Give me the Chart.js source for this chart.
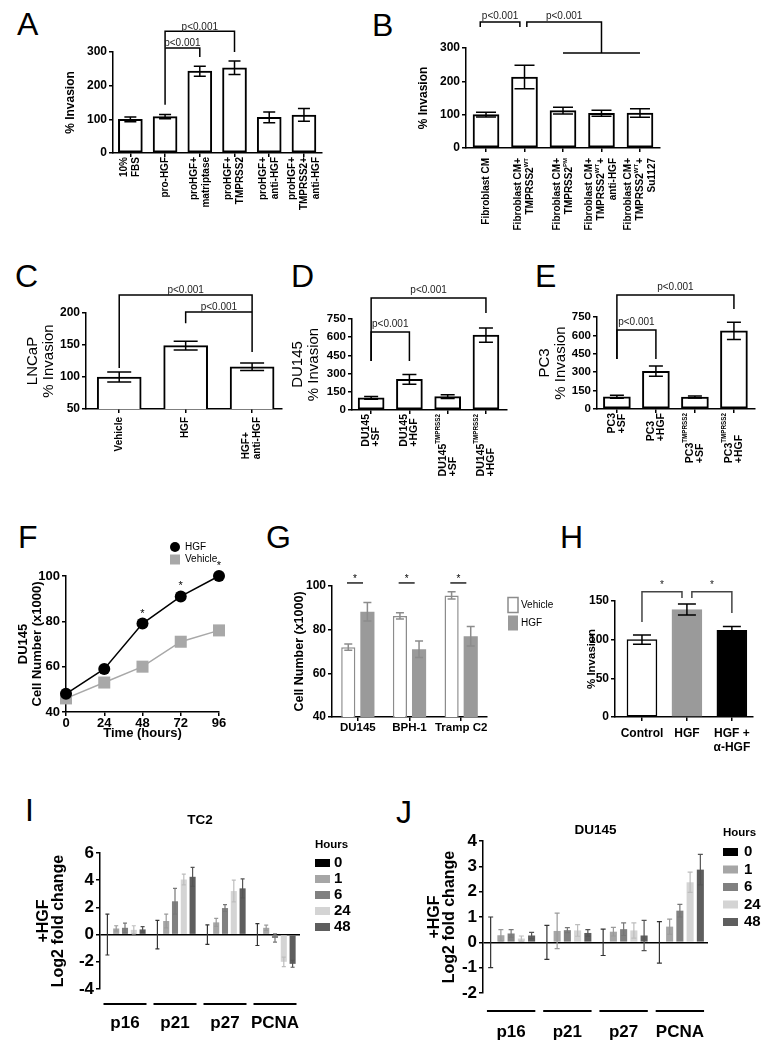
<!DOCTYPE html>
<html>
<head>
<meta charset="utf-8">
<script src="https://cdn.jsdelivr.net/npm/chart.js@4.4.1/dist/chart.umd.min.js"></script>
<style>
  body { margin: 0; background: #fff; width: 772px; height: 1050px; position: relative; overflow: hidden;
         font-family: "Liberation Sans", Arial, sans-serif; }
  canvas { position: absolute; }
  .tag { position: absolute; font-size: 32px; line-height: 32px; color: #000; }
</style>
</head>
<body>
<div class="tag" style="left:17px;top:8px">A</div>
<div class="tag" style="left:372px;top:9px">B</div>
<div class="tag" style="left:15px;top:260px">C</div>
<div class="tag" style="left:291px;top:260px">D</div>
<div class="tag" style="left:535px;top:260px">E</div>
<div class="tag" style="left:18px;top:521px">F</div>
<div class="tag" style="left:266px;top:521px">G</div>
<div class="tag" style="left:560px;top:521px">H</div>
<div class="tag" style="left:25px;top:794px">I</div>
<div class="tag" style="left:396px;top:796px">J</div>
<script>
"use strict";
const FAM = '"Liberation Sans", Arial, sans-serif';

// A - invasion with pro-HGF
const aLabels = ['10%|FBS', 'pro-HGF', 'proHGF+|matriptase', 'proHGF+|TMPRSS2', 'proHGF+|anti-HGF', 'proHGF+|TMPRSS2+|anti-HGF'];
const aVals = [100, 108, 243, 253, 106, 113];
const aErr = [7, 6, 15, 20, 16, 19];
const aBrackets = [
  {pts: [[1, 143], [1, 362], [3, 362], [3, 300]], text: 'p<0.001'},
  {pts: [[1, 312], [2, 312], [2, 285]], text: 'p<0.001'}
];

// B - fibroblast CM
const bLabels = ['Fibroblast CM', 'Fibroblast CM+|TMPRSS2{WT}', 'Fibroblast CM+|TMPRSS2{PM}',
  'Fibroblast CM+|TMPRSS2{WT}+|anti-HGF', 'Fibroblast CM+|TMPRSS2{WT}+|Su1127'];
const bVals = [100, 213, 112, 104, 105];
const bErr = [7, 35, 10, 9, 13];
const bBrackets = [
  {pts: [[-0.15, 363], [-0.15, 378], [0.88, 378], [0.88, 363]], text: 'p<0.001'},
  {pts: [[1.06, 363], [1.06, 378], [3, 378], [3, 285]], text: 'p<0.001'},
  {pts: [[2, 285], [4, 285]]}
];

// C - LNCaP
const cLabels = ['Vehicle', 'HGF', 'HGF+|anti-HGF'];
const cVals = [100, 149, 116];
const cErr = [8, 7, 6];
const cBrackets = [
  {pts: [[0, 114], [0, 228], [2, 228], [2, 139]], text: 'p<0.001'},
  {pts: [[1, 184], [1, 201.5], [2, 201.5]], text: 'p<0.001'}
];

// D - DU145
const dLabels = ['DU145|+SF', 'DU145|+HGF', 'DU145{TMPRSS2}|+SF', 'DU145{TMPRSS2}|+HGF'];
const dVals = [100, 253, 110, 617];
const dErr = [12, 40, 15, 58];
const dBrackets = [
  {pts: [[0, 404], [0, 923], [3, 923], [3, 800]], text: 'p<0.001'},
  {pts: [[0, 404], [0, 643], [1, 643], [1, 404]], text: 'p<0.001'}
];

// E - PC3
const eLabels = ['PC3|+SF', 'PC3|+HGF', 'PC3{TMPRSS2}|+SF', 'PC3{TMPRSS2}|+HGF'];
const eVals = [100, 308, 98, 637];
const eErr = [12, 42, 8, 70];
const eBrackets = [
  {pts: [[0, 407], [0, 929], [3, 929], [3, 815]], text: 'p<0.001'},
  {pts: [[0, 407], [0, 644], [1, 644], [1, 407]], text: 'p<0.001'}
];

// F - growth curve
const fTime = [0, 24, 48, 72, 96];
const fHGF = [48, 59, 79, 91, 100];
const fVehicle = [46, 53, 60, 71, 76];
const fStars = [48, 72, 96];

// G - cell number
const gCells = ['DU145', 'BPH-1', 'Tramp C2'];
const gVehicle = [72, 86.3, 95.7];
const gVehicleErr = [1.4, 1.4, 1.7];
const gHGF = [88.2, 71, 77];
const gHGFErr = [4.2, 3.8, 4.5];

// H - invasion
const hLabels = ['Control', 'HGF', 'HGF +|\u03b1-HGF'];
const hVals = [100, 139, 112];
const hErr = [6, 7, 5];
const hBrackets = [
  {pts: [[0, 123], [0, 162], [0.89, 162], [0.89, 154]], text: '*'},
  {pts: [[1.11, 154], [1.11, 162], [2, 162], [2, 134.5]], text: '*'}
];

// I / J - fold change by hour
const genes = ['p16', 'p21', 'p27', 'PCNA'];
const hours = ['0', '1', '6', '24', '48'];
const hourFill = ['#000000', '#a6a6a6', '#808080', '#d4d4d4', '#5e5e5e'];
const hourErr = ['#333333', '#9a9a9a', '#777777', '#bdbdbd', '#555555'];
const tc2Vals = [
  [0, 0, 0, 0],
  [0.45, 1.0, 0.9, 0.5],
  [0.5, 2.45, 1.95, -0.25],
  [0.35, 4.05, 3.2, -2.0],
  [0.38, 4.25, 3.4, -2.15]
];
const tc2Err = [
  [1.5, 1.05, 0.72, 0.8],
  [0.2, 0.5, 0.3, 0.2],
  [0.35, 0.95, 0.25, 0.3],
  [0.3, 0.4, 0.8, 0.35],
  [0.2, 0.7, 0.7, 0.25]
];
const duVals = [
  [0, 0, 0, 0],
  [0.28, 0.45, 0.42, 0.62],
  [0.35, 0.48, 0.52, 1.25],
  [0.15, 0.47, 0.47, 2.37],
  [0.27, 0.37, 0.27, 2.87]
];
const duErr = [
  [1.0, 0.67, 0.52, 0.82],
  [0.22, 0.7, 0.17, 0.3],
  [0.15, 0.1, 0.25, 0.25],
  [0.1, 0.23, 0.3, 0.4],
  [0.12, 0.13, 0.6, 0.6]
];

// ---------- plugins ----------
const errorBars = {
  id: 'errorBars',
  afterDatasetsDraw(chart) {
    const ctx = chart.ctx;
    chart.data.datasets.forEach((ds, i) => {
      if (!ds.errors) return;
      const meta = chart.getDatasetMeta(i);
      const ys = chart.scales[meta.yAxisID];
      const half = (ds.capWidth || 10) / 2;
      ctx.save();
      ctx.strokeStyle = ds.errColor || '#000';
      ctx.lineWidth = ds.errWidth || 1.5;
      meta.data.forEach((el, j) => {
        const e = ds.errors[j];
        if (e == null) return;
        const raw = ds.data[j];
        const v = typeof raw === 'object' ? raw.y : raw;
        const top = ys.getPixelForValue(v + e), bot = ys.getPixelForValue(v - e);
        ctx.beginPath();
        ctx.moveTo(el.x, top); ctx.lineTo(el.x, bot);
        ctx.moveTo(el.x - half, top); ctx.lineTo(el.x + half, top);
        ctx.moveTo(el.x - half, bot); ctx.lineTo(el.x + half, bot);
        ctx.stroke();
      });
      ctx.restore();
    });
  }
};

const brackets = {
  id: 'brackets',
  afterDraw(chart, args, o) {
    if (!o.items) return;
    const {ctx} = chart, x = chart.scales.x, y = chart.scales.y;
    ctx.save();
    ctx.strokeStyle = o.color || '#000';
    ctx.fillStyle = o.textColor || '#222';
    ctx.lineWidth = o.width || 1.5;
    ctx.font = o.font || `10px ${FAM}`;
    ctx.textAlign = 'center';
    ctx.textBaseline = 'alphabetic';
    o.items.forEach(it => {
      const pts = it.pts.map(p => [x.getPixelForValue(p[0]), y.getPixelForValue(p[1])]);
      if (pts.length > 1) {
        ctx.beginPath();
        pts.forEach((p, k) => k ? ctx.lineTo(p[0], p[1]) : ctx.moveTo(p[0], p[1]));
        ctx.stroke();
      }
      if (it.text) {
        const xs = pts.map(p => p[0]);
        const top = Math.min(...pts.map(p => p[1]));
        ctx.fillText(it.text, (Math.min(...xs) + Math.max(...xs)) / 2, top - (o.gap || 0));
      }
    });
    ctx.restore();
  }
};

// text with {superscript} parts
function richParts(t) {
  return t.split(/(\{[^}]*\})/).filter(Boolean)
    .map(s => s[0] === '{' ? {t: s.slice(1, -1), sup: true} : {t: s, sup: false});
}
function richWidth(ctx, parts, size) {
  let w = 0;
  parts.forEach(p => {
    ctx.font = `bold ${p.sup ? size * 0.6 : size}px ${FAM}`;
    w += ctx.measureText(p.t).width;
  });
  return w;
}

// rotated category labels under an index axis
const vLabels = {
  id: 'vLabels',
  afterDraw(chart, args, o) {
    if (!o.labels) return;
    const {ctx} = chart, xs = chart.scales.x;
    ctx.save();
    ctx.fillStyle = '#000';
    ctx.textBaseline = 'middle';
    ctx.textAlign = 'left';
    o.labels.forEach((lab, i) => {
      const lines = lab.split('|').map(richParts);
      const widths = lines.map(p => richWidth(ctx, p, o.size));
      const maxW = Math.max(...widths);
      ctx.save();
      ctx.translate(xs.getPixelForValue(i), xs.top + o.gap);
      ctx.rotate(-Math.PI / 2);
      lines.forEach((parts, j) => {
        const dy = (j - (lines.length - 1) / 2) * o.lineH;
        let cx = o.align === 'bottom' ? -maxW : -widths[j];
        parts.forEach(p => {
          const sz = p.sup ? o.size * 0.6 : o.size;
          ctx.font = `bold ${sz}px ${FAM}`;
          ctx.fillText(p.t, cx, dy - (p.sup ? o.size * 0.4 : 0));
          cx += ctx.measureText(p.t).width;
        });
      });
      ctx.restore();
    });
    ctx.restore();
  }
};

// legend drawn at page positions from the datasets
const keyBox = {
  id: 'keyBox',
  afterDraw(chart, args, o) {
    if (o.x == null) return;
    const ctx = chart.ctx, ox = chart.canvas.offsetLeft, oy = chart.canvas.offsetTop;
    ctx.save();
    ctx.textBaseline = 'middle';
    ctx.textAlign = 'left';
    ctx.fillStyle = '#000';
    if (o.title) {
      ctx.font = o.titleFont;
      ctx.fillText(o.title, o.x - ox, o.titleY - oy);
    }
    chart.data.datasets.forEach((ds, i) => {
      const cx = o.x - ox, cy = o.y + i * o.step - oy;
      if (o.kind === 'point') {
        ctx.fillStyle = ds.pointBackgroundColor;
        ctx.beginPath();
        if (ds.pointStyle === 'rect') ctx.rect(cx - o.r, cy - o.r, 2 * o.r, 2 * o.r);
        else ctx.arc(cx, cy, o.r, 0, Math.PI * 2);
        ctx.fill();
      } else {
        ctx.fillStyle = ds.backgroundColor;
        ctx.fillRect(cx, cy - o.boxH / 2, o.boxW, o.boxH);
        if (ds.borderWidth) {
          ctx.strokeStyle = ds.borderColor;
          ctx.lineWidth = ds.borderWidth;
          ctx.strokeRect(cx, cy - o.boxH / 2, o.boxW, o.boxH);
        }
      }
      ctx.fillStyle = '#000';
      ctx.font = o.font;
      ctx.fillText(ds.label, o.textX - ox, cy);
    });
    ctx.restore();
  }
};

// title above the plot and lines under groups
const caption = {
  id: 'caption',
  afterDraw(chart, args, o) {
    const {ctx, chartArea} = chart;
    ctx.save();
    if (o.text) {
      ctx.font = o.font;
      ctx.fillStyle = '#000';
      ctx.textAlign = 'center';
      ctx.textBaseline = 'middle';
      ctx.fillText(o.text, (chartArea.left + chartArea.right) / 2, o.y - chart.canvas.offsetTop);
    }
    if (o.underline) {
      const xs = chart.scales.x;
      const step = xs.getPixelForValue(1) - xs.getPixelForValue(0);
      ctx.strokeStyle = '#000';
      ctx.lineWidth = 2;
      chart.data.labels.forEach((l, i) => {
        const px = xs.getPixelForValue(i);
        ctx.beginPath();
        ctx.moveTo(px - step * o.underline / 2, xs.top + o.dy);
        ctx.lineTo(px + step * o.underline / 2, xs.top + o.dy);
        ctx.stroke();
      });
    }
    ctx.restore();
  }
};

Chart.register(errorBars, brackets, vLabels, keyBox, caption);
Chart.defaults.font.family = FAM;
Chart.defaults.color = '#000';
Chart.defaults.animation = false;
Chart.defaults.plugins.legend.display = false;
Chart.defaults.plugins.tooltip.enabled = false;

// ---------- layout helpers ----------
function mount(box, area) {
  const c = document.createElement('canvas');
  const w = box[2] - box[0], h = box[3] - box[1];
  c.width = w; c.height = h;
  c.style.left = box[0] + 'px'; c.style.top = box[1] + 'px';
  c.style.width = w + 'px'; c.style.height = h + 'px';
  document.body.appendChild(c);
  return {
    canvas: c,
    padding: {left: 0, top: area[1] - box[1], right: box[2] - area[2], bottom: 0},
    yW: area[0] - box[0],
    xH: box[3] - area[3]
  };
}

const yTitle = (text, size, weight, lh) =>
  ({display: true, text, color: '#000', padding: 0, font: {size, weight, lineHeight: lh}});

function valAxis(m, min, max, step, tick, title) {
  return {
    min, max,
    ticks: {stepSize: step, font: {size: tick, weight: 'bold'}, padding: 2},
    grid: {drawOnChartArea: false, tickLength: 4, color: '#000', lineWidth: 1.5},
    border: {color: '#000', width: 1.5},
    title,
    afterFit: s => { s.width = m.yW; }
  };
}

function idxAxis(m, n, min, max) {
  return {
    type: 'linear', min, max, offset: false,
    afterBuildTicks: s => { s.ticks = Array.from({length: n}, (_, i) => ({value: i})); },
    ticks: {display: false},
    grid: {drawOnChartArea: false, offset: false, tickLength: 4, color: '#000', lineWidth: 1.5},
    border: {color: '#000', width: 1.5},
    afterFit: s => { s.height = m.xH; }
  };
}

function whiteBars(vals, err, cap, thick) {
  return {
    data: vals.map((v, i) => ({x: i, y: v})),
    errors: err, capWidth: cap,
    backgroundColor: '#fff', borderColor: '#000', borderWidth: 2, borderSkipped: false,
    barThickness: thick
  };
}

// ---------- A ----------
const mA = mount([63, 8, 332, 230], [113, 52, 322, 153]);
new Chart(mA.canvas, {
  type: 'bar',
  data: {datasets: [whiteBars(aVals, aErr, 12, 24)]},
  options: {
    responsive: false, layout: {padding: mA.padding},
    scales: {
      x: idxAxis(mA, aLabels.length, -0.5, 5.52),
      y: valAxis(mA, 0, 300, 100, 12, yTitle(['% Invasion'], 12, 'bold', 1.2))
    },
    plugins: {
      vLabels: {labels: aLabels, size: 10, lineH: 12, gap: 4, align: 'top'},
      brackets: {items: aBrackets, gap: 1.5}
    }
  }
});

// ---------- B ----------
const mB = mount([416, 4, 668, 238], [466, 48, 660, 148]);
new Chart(mB.canvas, {
  type: 'bar',
  data: {datasets: [whiteBars(bVals, bErr, 20, 26)]},
  options: {
    responsive: false, layout: {padding: mB.padding},
    scales: {
      x: idxAxis(mB, bLabels.length, -0.52, 4.52),
      y: valAxis(mB, 0, 300, 100, 12, yTitle(['% Invasion'], 12, 'bold', 1.2))
    },
    plugins: {
      vLabels: {labels: bLabels, size: 10, lineH: 12, gap: 10, align: 'top'},
      brackets: {items: bBrackets, gap: 3}
    }
  }
});

// ---------- C ----------
const mC = mount([25, 278, 292, 472], [86, 313, 282, 409]);
new Chart(mC.canvas, {
  type: 'bar',
  data: {datasets: [whiteBars(cVals, cErr, 24, 44)]},
  options: {
    responsive: false, layout: {padding: mC.padding},
    scales: {
      x: idxAxis(mC, cLabels.length, -0.5, 2.45),
      y: valAxis(mC, 50, 200, 50, 12, yTitle(['LNCaP', '% Invasion'], 15, 'normal', '16px'))
    },
    plugins: {
      vLabels: {labels: cLabels, size: 10, lineH: 11, gap: 8, align: 'bottom'},
      brackets: {items: cBrackets, gap: 2}
    }
  }
});

// ---------- D ----------
const mD = mount([290, 278, 515, 490], [352, 319, 507, 410]);
new Chart(mD.canvas, {
  type: 'bar',
  data: {datasets: [whiteBars(dVals, dErr, 14, 26)]},
  options: {
    responsive: false, layout: {padding: mD.padding},
    scales: {
      x: idxAxis(mD, dLabels.length, -0.5, 3.55),
      y: valAxis(mD, 0, 750, 150, 11.5, yTitle(['DU145', '% Invasion'], 15, 'normal', '16px'))
    },
    plugins: {
      vLabels: {labels: dLabels, size: 10.5, lineH: 10, gap: 4, align: 'bottom'},
      brackets: {items: dBrackets, gap: 5}
    }
  }
});

// ---------- E ----------
const mE = mount([537, 278, 765, 490], [597, 317, 755, 409]);
new Chart(mE.canvas, {
  type: 'bar',
  data: {datasets: [whiteBars(eVals, eErr, 14, 27)]},
  options: {
    responsive: false, layout: {padding: mE.padding},
    scales: {
      x: idxAxis(mE, eLabels.length, -0.51, 3.54),
      y: valAxis(mE, 0, 750, 150, 11.5, yTitle(['PC3', '% Invasion'], 15, 'normal', '16px'))
    },
    plugins: {
      vLabels: {labels: eLabels, size: 10.5, lineH: 10, gap: 4, align: 'bottom'},
      brackets: {items: eBrackets, gap: 5}
    }
  }
});

// ---------- F ----------
const mF = mount([16, 538, 242, 741], [66, 576, 219, 712]);
new Chart(mF.canvas, {
  type: 'line',
  data: {
    datasets: [
      {label: 'HGF', data: fTime.map((t, i) => ({x: t, y: fHGF[i]})), borderColor: '#000', borderWidth: 1.5,
       pointStyle: 'circle', pointRadius: 6, pointBackgroundColor: '#000', pointBorderWidth: 0, clip: false},
      {label: 'Vehicle', data: fTime.map((t, i) => ({x: t, y: fVehicle[i]})), borderColor: '#a8a8a8', borderWidth: 1.5,
       pointStyle: 'rect', pointRadius: 8.5, pointBackgroundColor: '#a8a8a8', pointBorderWidth: 0, clip: false}
    ]
  },
  options: {
    responsive: false, layout: {padding: mF.padding},
    scales: {
      x: {
        type: 'linear', min: 0, max: 96,
        ticks: {stepSize: 24, font: {size: 13, weight: 'bold'}, padding: 0, maxRotation: 0, autoSkip: false},
        grid: {drawOnChartArea: false, tickLength: 4, color: '#000', lineWidth: 1.5},
        border: {color: '#000', width: 1.5},
        title: {display: true, text: 'Time (hours)', padding: 0, font: {size: 13, weight: 'bold'}},
        afterFit: s => { s.height = mF.xH; }
      },
      y: valAxis(mF, 40, 100, 20, 13, yTitle(['DU145', 'Cell Number (x1000)'], 13, 'bold', '14px'))
    },
    plugins: {
      brackets: {items: fStars.map(t => ({pts: [[t, fHGF[fTime.indexOf(t)]]], text: '*'})), gap: 7,
                 font: `11px ${FAM}`, textColor: '#000'},
      keyBox: {kind: 'point', x: 175, y: 547, step: 12.5, r: 5, textX: 185, font: `10px ${FAM}`}
    }
  }
});

// ---------- G ----------
const mG = mount([292, 565, 562, 746], [332, 586, 487, 717]);
new Chart(mG.canvas, {
  type: 'bar',
  data: {
    labels: gCells,
    datasets: [
      {label: 'Vehicle', data: gVehicle, errors: gVehicleErr, errColor: '#8c8c8c', capWidth: 8,
       backgroundColor: '#fff', borderColor: '#8c8c8c', borderWidth: 1.5, borderSkipped: false,
       categoryPercentage: 0.74, barPercentage: 0.74},
      {label: 'HGF', data: gHGF, errors: gHGFErr, errColor: '#8c8c8c', capWidth: 8,
       backgroundColor: '#9a9a9a', borderWidth: 0, categoryPercentage: 0.74, barPercentage: 0.74}
    ]
  },
  options: {
    responsive: false, layout: {padding: mG.padding},
    scales: {
      x: {
        ticks: {font: {size: 11.5, weight: 'bold'}, padding: 0, maxRotation: 0, autoSkip: false},
        grid: {drawOnChartArea: false, offset: false, tickLength: 4, color: '#000', lineWidth: 1.5},
        border: {color: '#000', width: 1.5},
        afterFit: s => { s.height = mG.xH; }
      },
      y: valAxis(mG, 40, 100, 20, 12, yTitle(['Cell Number (x1000)'], 12.5, 'bold', 1.2))
    },
    plugins: {
      brackets: {items: gCells.map((c, i) => ({pts: [[i - 0.21, 101.4], [i + 0.1, 101.4]], text: '*'})),
                 gap: 1, color: '#222', textColor: '#000', font: `10px ${FAM}`},
      keyBox: {kind: 'box', x: 508, y: 605, step: 18, boxW: 10, boxH: 15, textX: 521, font: `10px ${FAM}`}
    }
  }
});

// ---------- H ----------
const mH = mount([585, 570, 765, 762], [615, 601, 753, 717]);
new Chart(mH.canvas, {
  type: 'bar',
  data: {
    datasets: [{
      data: hVals.map((v, i) => ({x: i, y: v})), errors: hErr, capWidth: 18,
      backgroundColor: ['#fff', '#9a9a9a', '#000'], borderColor: ['#000', '#9a9a9a', '#000'],
      borderWidth: 1.5, borderSkipped: false, barThickness: 30
    }]
  },
  options: {
    responsive: false, layout: {padding: mH.padding},
    scales: {
      x: {
        type: 'linear', min: -0.6, max: 2.47, offset: false,
        afterBuildTicks: s => { s.ticks = hLabels.map((_, i) => ({value: i})); },
        ticks: {callback: v => (hLabels[v] || '').split('|'), font: {size: 12, weight: 'bold'}, padding: 5,
                autoSkip: false, maxRotation: 0},
        grid: {drawOnChartArea: false, offset: false, tickLength: 4, color: '#000', lineWidth: 1.5},
        border: {color: '#000', width: 1.5},
        afterFit: s => { s.height = mH.xH; }
      },
      y: valAxis(mH, 0, 150, 50, 12, yTitle(['% Invasion'], 11.5, 'bold', 1.2))
    },
    plugins: {
      brackets: {items: hBrackets, gap: 4, color: '#444', textColor: '#222', font: `10px ${FAM}`}
    }
  }
});

// ---------- I and J ----------
function foldChart(m, vals, err, yMin, yMax, step, cat, bar, cap, title, titleY, key, padX, lineDy) {
  return new Chart(m.canvas, {
    type: 'bar',
    data: {
      labels: genes,
      datasets: hours.map((h, k) => ({
        label: h, data: vals[k], errors: err[k], errColor: hourErr[k], errWidth: 1.2, capWidth: cap,
        backgroundColor: hourFill[k], borderWidth: 0, categoryPercentage: cat, barPercentage: bar
      }))
    },
    options: {
      responsive: false, layout: {padding: m.padding},
      scales: {
        x: {
          ticks: {font: {size: 17, weight: 'bold'}, padding: padX, maxRotation: 0, autoSkip: false},
          grid: {display: false, drawTicks: false},
          border: {display: false},
          afterFit: s => { s.height = m.xH; }
        },
        y: {
          min: yMin, max: yMax,
          ticks: {stepSize: step, font: {size: 17, weight: 'bold'}, padding: 2},
          grid: {color: c => (c.tick && c.tick.value === 0) ? '#000' : 'rgba(0,0,0,0)',
                 tickColor: '#000', tickLength: 4, lineWidth: 1.5},
          border: {color: '#000', width: 1.5},
          title: yTitle(['+HGF', 'Log2 fold change'], 16, 'bold', '15px'),
          afterFit: s => { s.width = m.yW; }
        }
      },
      plugins: {
        caption: {text: title, y: titleY, font: `bold 13.5px ${FAM}`, underline: 0.86, dy: lineDy},
        keyBox: Object.assign({kind: 'box', boxW: 15, boxH: 8, title: 'Hours',
                               titleFont: `bold 11.5px ${FAM}`, font: `bold 15px ${FAM}`}, key)
      }
    }
  });
}

const mI = mount([36, 810, 385, 1046], [100, 853, 300, 989]);
foldChart(mI, tc2Vals, tc2Err, -4, 6, 2, 0.88, 0.69, 4, 'TC2', 820,
  {x: 315, y: 863, step: 16, textX: 334, titleY: 845}, 24, 15);

const mJ = mount([427, 818, 772, 1048], [483, 841, 708, 993]);
foldChart(mJ, duVals, duErr, -2, 4, 1, 0.91, 0.69, 5, 'DU145', 830,
  {x: 723, y: 852, step: 17.5, textX: 744, titleY: 833}, 29, 18);
</script>
</body>
</html>
